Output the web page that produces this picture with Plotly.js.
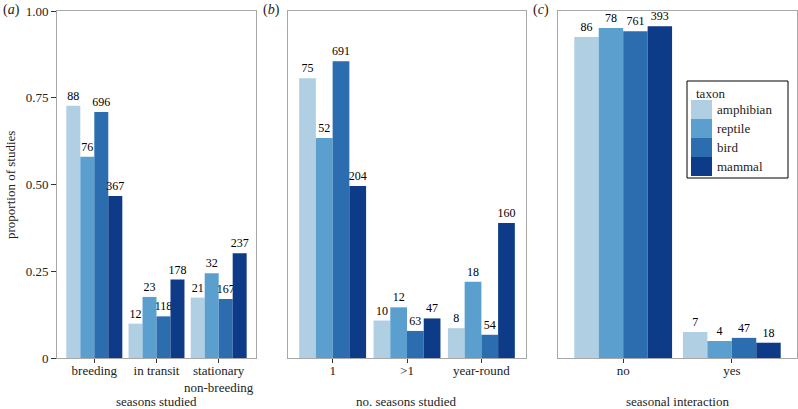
<!DOCTYPE html>
<html>
<head>
<meta charset="utf-8">
<script src="https://cdn.plot.ly/plotly-3.0.1.min.js"></script>
<style>html,body{margin:0;padding:0;background:#fff}#chart{width:798px;height:409px}</style>
</head>
<body>
<div id="chart"></div>
<script>
// ---- data ----
const taxa = ['amphibian', 'reptile', 'bird', 'mammal'];
const taxonColors = ['#b0cfe3', '#5b9fcf', '#2c6db0', '#0d3b87'];

const catsA = ['breeding', 'in transit', 'stationary<br>non-breeding'];
const propA = [
  [0.727, 0.099, 0.174],
  [0.580, 0.176, 0.244],
  [0.709, 0.120, 0.170],
  [0.467, 0.226, 0.302]
];
const countsA = [[88, 12, 21], [76, 23, 32], [696, 118, 167], [367, 178, 237]];

const catsB = ['1', '>1', 'year-round'];
const propB = [
  [0.806, 0.108, 0.086],
  [0.634, 0.146, 0.220],
  [0.855, 0.078, 0.067],
  [0.496, 0.114, 0.389]
];
const countsB = [[75, 10, 8], [52, 12, 18], [691, 63, 54], [204, 47, 160]];

const catsC = ['no', 'yes'];
const propC = [
  [0.925, 0.075],
  [0.951, 0.049],
  [0.942, 0.058],
  [0.956, 0.044]
];
const countsC = [[86, 7], [78, 4], [761, 47], [393, 18]];

const yTickVals = [0, 0.25, 0.5, 0.75, 1];
const yTickText = ['0', '0.25', '0.50', '0.75', '1.00'];

const xTitles = ['seasons studied', 'no. seasons studied', 'seasonal interaction'];
const panelLabels = ['(<i>a</i>)', '(<i>b</i>)', '(<i>c</i>)'];

// ---- build ----
const FONT = "'Liberation Serif', serif";
const panels = [
  {cats: catsA, prop: propA, counts: countsA, xa: 'x', ya: 'y'},
  {cats: catsB, prop: propB, counts: countsB, xa: 'x2', ya: 'y2'},
  {cats: catsC, prop: propC, counts: countsC, xa: 'x3', ya: 'y3'}
];
const traces = [];
panels.forEach((p, pi) => {
  taxa.forEach((t, ti) => {
    traces.push({
      type: 'bar',
      name: t,
      x: p.cats,
      y: p.prop[ti],
      text: p.counts[ti].map(String),
      textposition: 'outside',
      constraintext: 'none',
      textfont: {family: FONT, size: 12, color: '#000'},
      cliponaxis: false,
      marker: {color: taxonColors[ti], line: {width: 0}},
      xaxis: p.xa, yaxis: p.ya,
      showlegend: false,
      hoverinfo: 'skip'
    });
  });
});

const L = 57, W = 740, T = 11, H = 347;
const px = v => (v - L) / W;
const py = v => (T + H - v) / H;

const frame = '#a8a8a8';
function xaxis(domain, n, anchor) {
  return {
    domain: domain, anchor: anchor, type: 'category',
    range: [-0.6, n - 1 + 0.6],
    showline: true, mirror: true, linecolor: frame, linewidth: 1,
    ticks: 'outside', ticklen: 4, tickcolor: '#333', tickwidth: 1,
    ticklabelstandoff: -4,
    showgrid: false, zeroline: false,
    tickfont: {family: FONT, size: 13, color: '#222'},
    fixedrange: true
  };
}
function yaxis(anchor, labels) {
  return {
    anchor: anchor, range: [0, 1],
    showline: true, mirror: true, linecolor: frame, linewidth: 1,
    showgrid: false, zeroline: false,
    tickvals: labels ? yTickVals : [],
    ticktext: labels ? yTickText : [],
    ticks: labels ? 'outside' : '', ticklen: 5, tickcolor: '#333',
    showticklabels: labels,
    tickfont: {family: FONT, size: 13, color: '#222'},
    fixedrange: true
  };
}
const domA = [px(57), px(256)], domB = [px(288), px(526)], domC = [px(558), px(797)];
const doms = [domA, domB, domC];

const annotations = [];
doms.forEach((d, i) => {
  annotations.push({
    xref: 'paper', yref: 'paper', x: (d[0] + d[1]) / 2, y: py(401),
    text: xTitles[i], showarrow: false, xanchor: 'center', yanchor: 'middle',
    font: {family: FONT, size: 13, color: '#222'}
  });
});
[11, 271, 541].forEach((xx, i) => {
  annotations.push({
    xref: 'paper', yref: 'paper', x: px(xx), y: py(10),
    text: panelLabels[i], showarrow: false, xanchor: 'center', yanchor: 'middle',
    font: {family: FONT, size: 14, color: '#222'}
  });
});
annotations.push({
  xref: 'paper', yref: 'paper', x: px(10), y: py(185), textangle: -90,
  text: 'proportion of studies', showarrow: false, xanchor: 'center', yanchor: 'middle',
  font: {family: FONT, size: 13, color: '#222'}
});

// legend (custom, ggplot style)
const shapes = [];
shapes.push({type: 'rect', xref: 'paper', yref: 'paper',
  x0: px(687), x1: px(788), y0: py(81), y1: py(178),
  line: {color: '#000', width: 1}, fillcolor: '#fff', layer: 'above'});
annotations.push({xref: 'paper', yref: 'paper', x: px(694), y: py(93),
  text: 'taxon', showarrow: false, xanchor: 'left', yanchor: 'middle',
  font: {family: FONT, size: 13, color: '#222'}});
taxa.forEach((t, i) => {
  const top = 100 + i * 19;
  shapes.push({type: 'rect', xref: 'paper', yref: 'paper',
    x0: px(691), x1: px(712), y0: py(top), y1: py(top + 19),
    line: {width: 0}, fillcolor: taxonColors[i], layer: 'above'});
  annotations.push({xref: 'paper', yref: 'paper', x: px(715), y: py(top + 9.5),
    text: t, showarrow: false, xanchor: 'left', yanchor: 'middle',
    font: {family: FONT, size: 13, color: '#222'}});
});

const layout = {
  width: 798, height: 409,
  margin: {l: L, r: 798 - L - W, t: T, b: 409 - T - H, pad: 0},
  paper_bgcolor: '#fff', plot_bgcolor: '#fff',
  barmode: 'group', bargap: 0.1, bargroupgap: 0,
  showlegend: false,
  font: {family: FONT, size: 13, color: '#222'},
  xaxis: xaxis(domA, 3, 'y'),
  xaxis2: xaxis(domB, 3, 'y2'),
  xaxis3: xaxis(domC, 2, 'y3'),
  yaxis: yaxis('x', true),
  yaxis2: yaxis('x2', false),
  yaxis3: yaxis('x3', false),
  annotations: annotations,
  shapes: shapes
};

Plotly.newPlot('chart', traces, layout, {displayModeBar: false, staticPlot: true});
</script>
</body>
</html>
